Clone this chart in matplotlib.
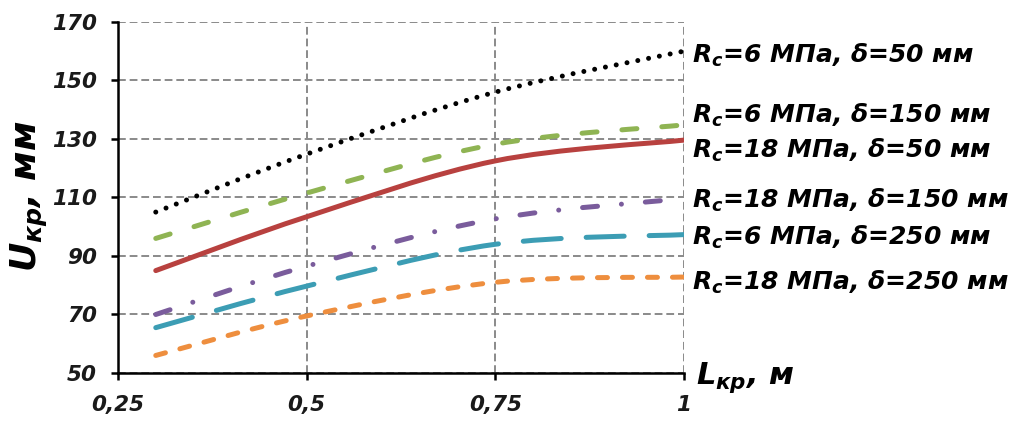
import matplotlib
matplotlib.use("Agg")
import matplotlib.pyplot as plt
from matplotlib.path import Path
from matplotlib.patches import PathPatch
from matplotlib.ticker import FixedLocator, FuncFormatter
import numpy as np

# data (x = L_kr, m; y = U_kr, mm)
L_KR = [0.3, 0.5, 0.75, 1.0]
U_RC6_D50 = [105, 124.8, 146, 160]
U_RC6_D150 = [96, 111.5, 128.2, 134.8]
U_RC18_D50 = [85, 103.4, 122.5, 129.6]
U_RC18_D150 = [70, 86.5, 102.7, 109.6]
U_RC6_D250 = [65.5, 79.7, 94, 97.3]
U_RC18_D250 = [56, 69.5, 81, 82.8]

SERIES = [U_RC6_D50, U_RC6_D150, U_RC18_D50, U_RC18_D150, U_RC6_D250, U_RC18_D250]
LABELS = [
    r"$R_c$=6 МПа, δ=50 мм",
    r"$R_c$=6 МПа, δ=150 мм",
    r"$R_c$=18 МПа, δ=50 мм",
    r"$R_c$=18 МПа, δ=150 мм",
    r"$R_c$=6 МПа, δ=250 мм",
    r"$R_c$=18 МПа, δ=250 мм",
]
X_TICKS = [0.25, 0.5, 0.75, 1.0]
Y_TICKS = [50, 70, 90, 110, 130, 150, 170]

# styles
COLORS = ["#000000", "#8fb453", "#b8413f", "#7a5c9c", "#3c9db4", "#ee8e3e"]
DASHES = [
    (0, (0.001, 2.2)),
    (0, (3.0, 5.0)),
    "-",
    (0, (3.0, 4.8, 0.001, 4.8)),
    (0, (7.6, 5.0)),
    (0, (2.0, 3.0)),
]
LABEL_Y = [158.4, 138.2, 126.2, 109.1, 96.5, 81.1]

plt.rcParams["mathtext.fontset"] = "custom"
plt.rcParams["mathtext.it"] = "DejaVu Sans:bold:oblique"
plt.rcParams["mathtext.rm"] = "DejaVu Sans:bold:oblique"
plt.rcParams["mathtext.bf"] = "DejaVu Sans:bold:oblique"

TICK_FONT = dict(family="DejaVu Sans", style="oblique", weight="bold", size=15.5)
LABEL_FONT = dict(family="DejaVu Sans", style="oblique", weight="bold")


def smooth_path(x, y):
    # Catmull-Rom style bezier through the points (like Excel "smoothed line")
    pts = np.column_stack([x, y]).astype(float)
    n = len(pts)
    verts = [pts[0]]
    codes = [Path.MOVETO]
    for i in range(n - 1):
        p0 = pts[max(i - 1, 0)]
        p1 = pts[i]
        p2 = pts[i + 1]
        p3 = pts[min(i + 2, n - 1)]
        verts += [p1 + (p2 - p0) / 6, p2 - (p3 - p1) / 6, p2]
        codes += [Path.CURVE4] * 3
    return Path(verts, codes)


fig = plt.figure(figsize=(10.30, 4.21), dpi=100)
ax = fig.add_axes([0.1146, 0.114, 0.5495, 0.834])

ax.set_xlim(0.25, 1.0)
ax.set_ylim(50, 170)

for y, color, ls in zip(SERIES, COLORS, DASHES):
    patch = PathPatch(smooth_path(L_KR, y), fill=False, edgecolor=color,
                      linewidth=3.6, linestyle=ls, capstyle="round",
                      joinstyle="round", zorder=3)
    ax.add_patch(patch)

ax.xaxis.set_major_locator(FixedLocator(X_TICKS))
ax.yaxis.set_major_locator(FixedLocator(Y_TICKS))
ax.xaxis.set_major_formatter(FuncFormatter(lambda v, p: f"{v:g}".replace(".", ",")))
ax.yaxis.set_major_formatter(FuncFormatter(lambda v, p: f"{v:g}"))

ax.grid(True, color="#8a8a8a", linestyle=(0, (4, 2)), linewidth=1.4, zorder=1)
ax.set_axisbelow(True)
for s in ["top", "right"]:
    ax.spines[s].set_visible(False)
for s in ["left", "bottom"]:
    ax.spines[s].set_linewidth(1.8)
    ax.spines[s].set_color("black")
ax.tick_params(axis="both", direction="out", length=5, width=1.8, color="black")
ax.tick_params(axis="y", pad=10)
ax.tick_params(axis="x", pad=11)
for lab in ax.get_xticklabels() + ax.get_yticklabels():
    lab.set_fontproperties(TICK_FONT)
    lab.set_color("#1a1a1a")

# series labels to the right of the plot
ytr = ax.get_yaxis_transform()
for text, yl in zip(LABELS, LABEL_Y):
    ax.text(1.014, yl, text, transform=ytr, ha="left", va="center",
            fontsize=18, color="black", clip_on=False, **LABEL_FONT)

ax.text(1.022, -0.014, r"$L_{кр}$, м", transform=ax.transAxes, ha="left",
        va="center", fontsize=22, color="black", clip_on=False, **LABEL_FONT)
fig.text(0.029, 0.535, r"$U_{кр}$, мм", rotation=90, ha="center", va="center",
         fontsize=26, color="black", **LABEL_FONT)

fig.savefig("out.png", dpi=100, facecolor="white")
